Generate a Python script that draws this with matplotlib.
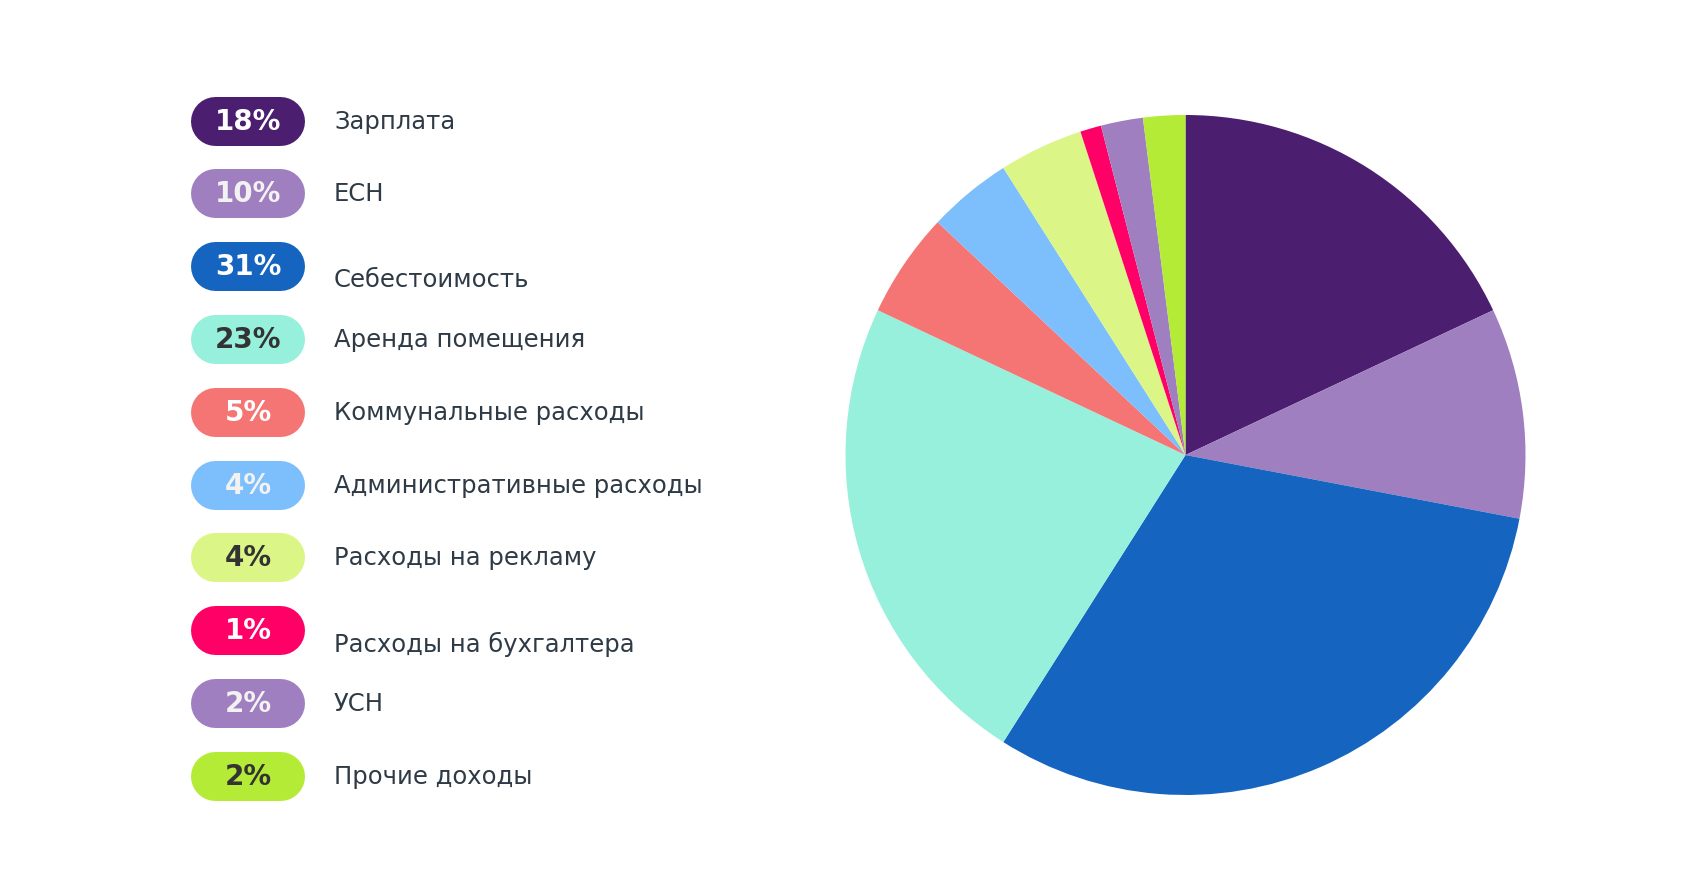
import matplotlib
matplotlib.use('Agg')
import matplotlib.pyplot as plt

# data
labels = ['Зарплата', 'ЕСН', 'Себестоимость', 'Аренда помещения', 'Коммунальные расходы',
          'Административные расходы', 'Расходы на рекламу', 'Расходы на бухгалтера',
          'УСН', 'Прочие доходы']
values = [18, 10, 31, 23, 5, 4, 4, 1, 2, 2]
colors = ['#4B1E6F', '#A07FC0', '#1565C0', '#96F0DB', '#F57474',
          '#7DBFFD', '#DCF587', '#FF0066', '#A07FC0', '#B4EB37']
pct_text_colors = ['#ffffff', '#f2f2f2', '#ffffff', '#333333', '#ffffff',
                   '#f2f2f2', '#333333', '#ffffff', '#f2f2f2', '#333333']
# some labels sit a bit lower than their pill in the original
label_shift = [0, 0, 13, 0, 0, 0, 0, 13, 0, 0]

W, H = 1700, 882
fig = plt.figure(figsize=(W / 100, H / 100), dpi=100)

# pie: centre (1185, 455) px, radius 340 px
cx, cy, r = 1185.5, 455, 340
pie_ax = fig.add_axes([(cx - r) / W, (H - cy - r) / H, 2 * r / W, 2 * r / H])
pie_ax.pie(values, colors=colors, startangle=90, counterclock=False,
           wedgeprops=dict(linewidth=0))
pie_ax.set_xlim(-1, 1)
pie_ax.set_ylim(-1, 1)
pie_ax.axis('off')

# legend drawn in pixel coordinates
leg = fig.add_axes([0, 0, 1, 1])
leg.set_xlim(0, W)
leg.set_ylim(H, 0)
leg.axis('off')

pill_x, pill_w, pill_h = 191, 114, 49
y0, step = 120.5, 72.8
lw_pt = pill_h * 72 / 100  # pixel height -> points
for i, (lab, v) in enumerate(zip(labels, values)):
    yc = y0 + i * step
    # pill = thick line with round caps
    leg.plot([pill_x + pill_h / 2, pill_x + pill_w - pill_h / 2], [yc, yc],
             color=colors[i], lw=lw_pt, solid_capstyle='round')
    leg.text(pill_x + pill_w / 2, yc + 1, f'{v}%', ha='center', va='center',
             fontsize=20, fontweight='bold', color=pct_text_colors[i])
    leg.text(334, yc + 1 + label_shift[i], lab, ha='left', va='center',
             fontsize=17.5, color='#2E3A45')

fig.savefig('out.png', dpi=100, facecolor='white')
